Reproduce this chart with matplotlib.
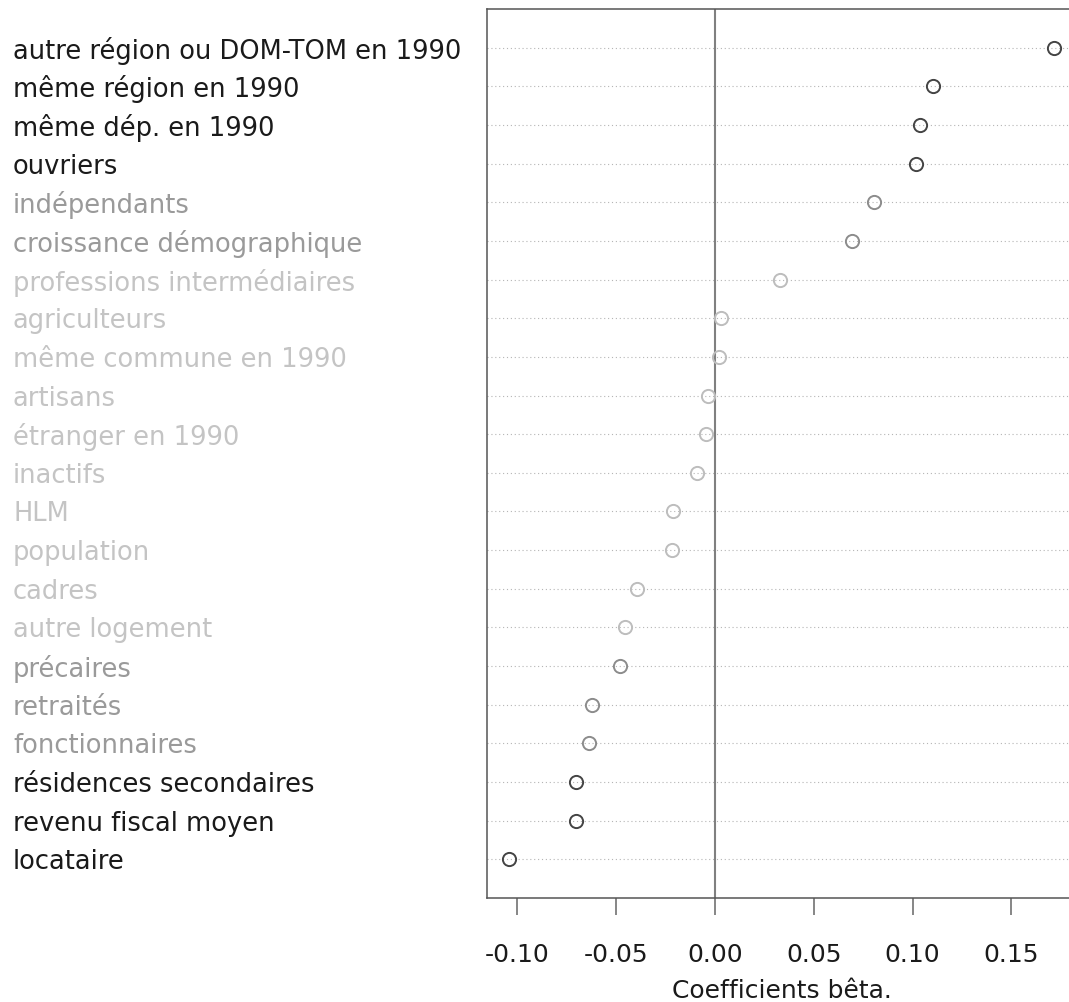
import matplotlib
matplotlib.use("Agg")
import matplotlib.pyplot as plt
import matplotlib.transforms as mtransforms
import numpy as np

plt.rcParams["font.family"] = ["DejaVu Sans"]

# Variables (de haut en bas) et coefficients bêta
variables = [
    "autre région ou DOM-TOM en 1990",
    "même région en 1990",
    "même dép. en 1990",
    "ouvriers",
    "indépendants",
    "croissance démographique",
    "professions intermédiaires",
    "agriculteurs",
    "même commune en 1990",
    "artisans",
    "étranger en 1990",
    "inactifs",
    "HLM",
    "population",
    "cadres",
    "autre logement",
    "précaires",
    "retraités",
    "fonctionnaires",
    "résidences secondaires",
    "revenu fiscal moyen",
    "locataire",
]
beta = [0.1717, 0.1104, 0.1037, 0.1018, 0.0804, 0.0694, 0.0328, 0.0031,
        0.0023, -0.0034, -0.0046, -0.0089, -0.0210, -0.0215, -0.0395,
        -0.0454, -0.0480, -0.0620, -0.0637, -0.0704, -0.0704, -0.1041]
# niveau de significativité : 0 = significatif, 1 = moyen, 2 = non significatif
signif = [0, 0, 0, 0, 1, 1, 2, 2, 2, 2, 2, 2, 2, 2, 2, 2, 1, 1, 1, 0, 0, 0]

couleur_texte = {0: "#1a1a1a", 1: "#9a9a9a", 2: "#c4c4c4"}
couleur_point = {0: "#444444", 1: "#8c8c8c", 2: "#bdbdbd"}

W, H = 1069, 1003
fig = plt.figure(figsize=(W / 100, H / 100), dpi=100)
ax = fig.add_axes([487.4 / W, 104 / H, 588.6 / W, 889 / H])

n = len(variables)
y = np.arange(n, 0, -1)

# lignes pointillées horizontales
for yi in y:
    ax.axhline(yi, color="#b5b5b5", lw=0.8, ls=(0, (1, 2.5)), zorder=1)
ax.axvline(0, color="#808080", lw=1.5, zorder=2)

for xi, yi, s in zip(beta, y, signif):
    ax.plot(xi, yi, "o", ms=9.5, mfc="none", mec=couleur_point[s], mew=1.4, zorder=3)

ax.margins(x=0.04)
ax.set_ylim(0, n + 1)
ax.set_yticks([])
ax.set_xticks([-0.10, -0.05, 0.00, 0.05, 0.10, 0.15])
ax.set_xticklabels(["-0.10", "-0.05", "0.00", "0.05", "0.10", "0.15"])
ax.tick_params(axis="x", direction="out", length=12, width=1.1, color="#666666",
               labelsize=18, labelcolor="#1a1a1a", pad=20)
for sp in ax.spines.values():
    sp.set_color("#555555")
    sp.set_linewidth(1.1)

# étiquettes des variables, alignées à gauche
trans = mtransforms.blended_transform_factory(fig.transFigure, ax.transData)
trans = mtransforms.offset_copy(trans, fig=fig, y=-2, units="dots")
for lab, yi, s in zip(variables, y, signif):
    ax.text(13 / W, yi, lab, transform=trans, ha="left", va="center",
            fontsize=18.5, color=couleur_texte[s], clip_on=False)

ax.set_xlabel("Coefficients bêta.", fontsize=18, color="#1a1a1a")
ax.xaxis.set_label_coords(0.5, (5 - 104) / 889)
ax.xaxis.label.set_va("baseline")

fig.savefig("out.png", dpi=100)
